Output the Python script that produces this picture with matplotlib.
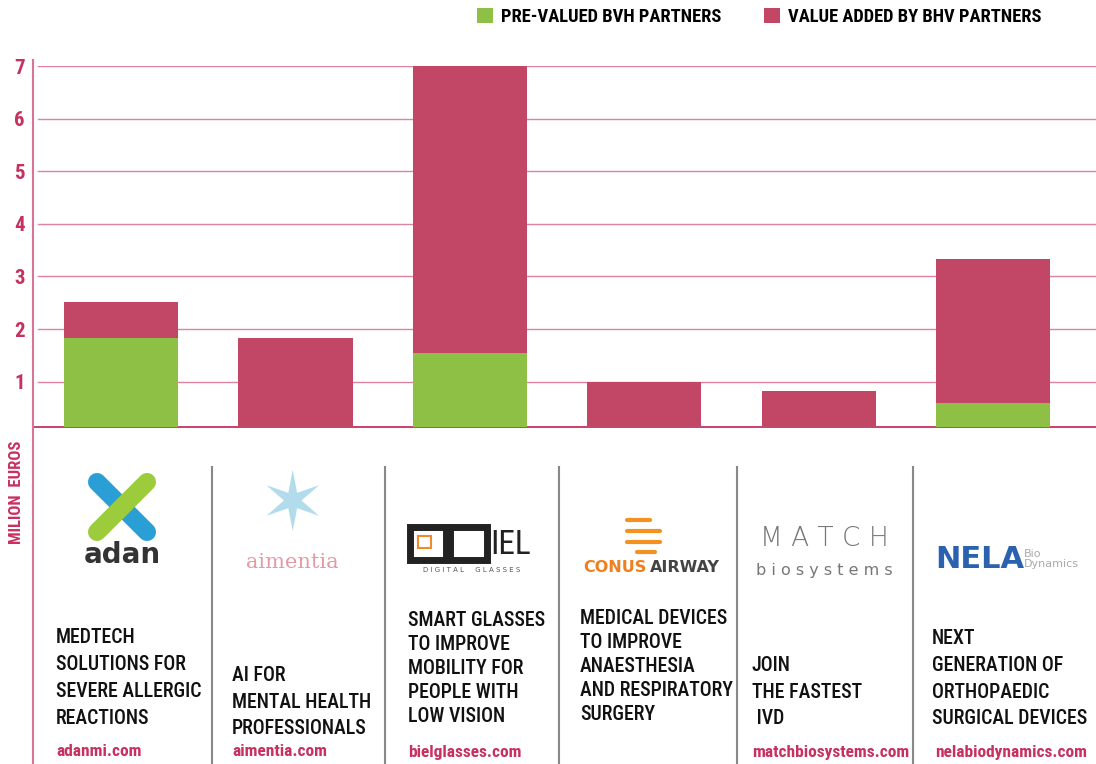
import matplotlib
matplotlib.use("Agg")
from matplotlib import pyplot as plt
from matplotlib import font_manager as fm
from matplotlib.patches import Rectangle
from matplotlib.lines import Line2D

# data
companies = ['adan', 'aimentia', 'biel', 'conus', 'match', 'nela']
pre_valued = [1.83, 0.0, 1.55, 0.0, 0.0, 0.59]
value_added = [0.68, 1.83, 5.45, 1.0, 0.82, 2.75]
y_ticks = [1, 2, 3, 4, 5, 6, 7]
legend_labels = ['PRE-VALUED BVH PARTNERS', 'VALUE ADDED BY BHV PARTNERS']
y_label = 'MILION  EUROS'
descriptions = [
    ['MEDTECH', 'SOLUTIONS FOR', 'SEVERE ALLERGIC', 'REACTIONS'],
    ['AI FOR', 'MENTAL HEALTH', 'PROFESSIONALS'],
    ['SMART GLASSES', 'TO IMPROVE', 'MOBILITY FOR', 'PEOPLE WITH', 'LOW VISION'],
    ['MEDICAL DEVICES', 'TO IMPROVE', 'ANAESTHESIA', 'AND RESPIRATORY', 'SURGERY'],
    ['JOIN', 'THE FASTEST', ' IVD'],
    ['NEXT', 'GENERATION OF', 'ORTHOPAEDIC', 'SURGICAL DEVICES'],
]
urls = ['adanmi.com', 'aimentia.com', 'bielglasses.com', '', 'matchbiosystems.com',
        'nelabiodynamics.com']

GREEN = '#8dc044'
CRIMSON = '#c24665'
PINK = '#c8305f'

# pick a narrow font if one is installed
avail = {(f.name, f.stretch) for f in fm.fontManager.ttflist}
names = {f.name for f in fm.fontManager.ttflist}
cond = dict(family='DejaVu Sans')
if 'Roboto Condensed' in names:
    cond = dict(family='Roboto Condensed')
elif 'Liberation Sans Narrow' in names:
    cond = dict(family='Liberation Sans Narrow')
elif ('DejaVu Sans', 'condensed') in avail:
    cond = dict(family='DejaVu Sans', stretch='condensed')

W, H = 1096, 764
fig = plt.figure(figsize=(W / 100, H / 100), dpi=100)


def fx(px):
    return px / W


def fy(py):
    return 1 - py / H


ax = fig.add_axes([fx(33), fy(427), fx(1096 - 33), fy(66) - fy(427)])
x = list(range(len(companies)))
b1 = ax.bar(x, pre_valued, width=0.654, color=GREEN, zorder=3)
b2 = ax.bar(x, value_added, bottom=pre_valued, width=0.654, color=CRIMSON, zorder=3)
ax.set_xlim(-0.505, 5.59)
ax.set_ylim(0.137, 7)
ax.set_yticks(y_ticks)
ax.set_xticks([])
for t in y_ticks:
    ax.axhline(t, xmin=0.005, color=PINK, lw=1, alpha=0.6, zorder=1)
for s in ['top', 'right', 'left']:
    ax.spines[s].set_visible(False)
ax.spines['bottom'].set_color(PINK)
ax.spines['bottom'].set_linewidth(1.3)
ax.tick_params(axis='y', length=0, pad=6)
for lab in ax.get_yticklabels():
    lab.set_color(PINK)
    lab.set_fontsize(15)
    lab.set_fontweight('bold')
    lab.set_fontfamily(cond['family'])
    if 'stretch' in cond:
        lab.set_fontstretch(cond['stretch'])

# left pink rule down the whole height
fig.add_artist(Line2D([fx(33), fx(33)], [fy(60), fy(764)], color='#d9739a', lw=1.5))

# y label
fig.text(fx(17), fy(492), y_label, rotation=90, ha='center', va='center',
         color=PINK, fontsize=12, fontweight='bold', **cond)

# legend
fig.legend([b1, b2], legend_labels, loc='center right', bbox_to_anchor=(fx(1058), fy(17)),
           ncol=2, frameon=False, handlelength=0.85, handleheight=0.85, handletextpad=0.45,
           columnspacing=2.3, prop=fm.FontProperties(size=13.3, weight='bold', **cond))

# panel separators
for sx in [212, 385, 559, 737, 913]:
    fig.add_artist(Line2D([fx(sx), fx(sx)], [fy(467), fy(764)], color='#888888', lw=1.5))

# descriptions and urls
desc_x = [56, 232, 408, 580, 752, 932]
desc_bottom = [718, 729, 717, 715, 719, 719]
for i in range(len(companies)):
    n = len(descriptions[i])
    step = 26.7 if n < 5 else 24.2
    for j, line in enumerate(descriptions[i]):
        yy = desc_bottom[i] - (n - 1 - j) * step
        fig.text(fx(desc_x[i]), fy(yy), line, ha='left', va='center', fontsize=14.3,
                 color='#111111', fontweight='medium', **cond)
    if urls[i]:
        fig.text(fx(desc_x[i] + (3 if i == 5 else 0)), fy(752), urls[i], ha='left',
                 va='center', fontsize=12.5, fontweight='bold', color=PINK, **cond)

# logos (simplified)
fig.add_artist(Line2D([fx(97), fx(147)], [fy(482), fy(532)], color='#2a9fd6', lw=13,
                      solid_capstyle='round'))
fig.add_artist(Line2D([fx(147), fx(97)], [fy(482), fy(532)], color='#9ccb3b', lw=13,
                      solid_capstyle='round'))
fig.text(fx(122), fy(555), 'adan', ha='center', va='center', fontsize=20,
         fontweight='bold', color='#333333')

fig.text(fx(292), fy(508), '\u2736', ha='center', va='center', fontsize=58,
         color='#7fc6e0', alpha=0.6, family='DejaVu Sans')
fig.text(fx(292), fy(563), 'aimentia', ha='center', va='center', fontsize=15,
         color='#e39aa6', family='DejaVu Serif')

fig.add_artist(Rectangle((fx(410), fy(560)), fx(36), fy(527) - fy(560), transform=fig.transFigure,
                         fill=False, ec='#222222', lw=5))
fig.add_artist(Rectangle((fx(418), fy(548)), fx(13), fy(536) - fy(548), transform=fig.transFigure,
                         fill=False, ec='#f08a2c', lw=1.5))
fig.add_artist(Rectangle((fx(450), fy(560)), fx(37), fy(527) - fy(560), transform=fig.transFigure,
                         fill=False, ec='#222222', lw=5))
fig.text(fx(490), fy(545), 'IEL', ha='left', va='center', fontsize=24, color='#222222',
         **cond)
fig.text(fx(472), fy(570), 'D I G I T A L     G L A S S E S', ha='center', va='center',
         fontsize=5, color='#555555')

for k, (x0, x1, yy) in enumerate([(627, 650, 520), (627, 660, 531), (627, 660, 542), (637, 655, 552)]):
    fig.add_artist(Line2D([fx(x0), fx(x1)], [fy(yy), fy(yy)], color='#f39223', lw=3,
                          solid_capstyle='round'))
fig.text(fx(646), fy(567), 'CONUS', ha='right', va='center', fontsize=11.5, fontweight='bold',
         color='#f07f1e', family='DejaVu Sans')
fig.text(fx(650), fy(567), 'AIRWAY', ha='left', va='center', fontsize=11.5, fontweight='bold',
         color='#444444', family='DejaVu Sans')

fig.text(fx(824), fy(538), 'M A T C H', ha='center', va='center', fontsize=19,
         color='#777777', fontweight='light', family='DejaVu Sans')
fig.text(fx(824), fy(570), 'b i o s y s t e m s', ha='center', va='center', fontsize=11.5,
         color='#777777', family='DejaVu Sans')

fig.text(fx(935), fy(559), 'NELA', ha='left', va='center', fontsize=22, fontweight='bold',
         color='#2b62b0', family='DejaVu Sans')
fig.text(fx(1024), fy(559), 'Bio\nDynamics', ha='left', va='center', fontsize=8,
         color='#aaaaaa', linespacing=0.9, family='DejaVu Sans')

fig.savefig('out.png', dpi=100)
